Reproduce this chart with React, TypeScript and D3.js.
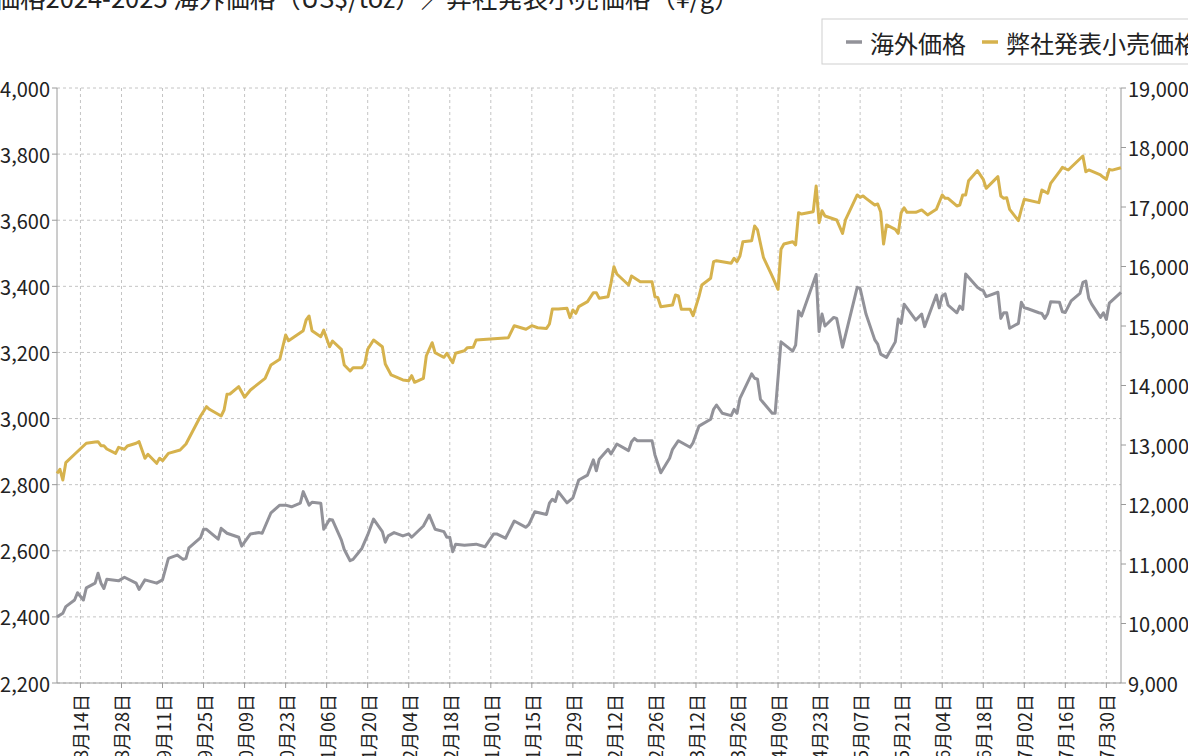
import { useEffect } from "react";
import { extent, format, scaleLinear, scaleTime, line, timeFormat } from "d3";

// 海外価格 (US$/toz)
const overseas: [string, number][] = [
    ["2024-08-06", 2400], ["2024-08-08", 2411], ["2024-08-09", 2431], ["2024-08-12", 2451], ["2024-08-13", 2473],
    ["2024-08-15", 2451], ["2024-08-16", 2488], ["2024-08-19", 2502], ["2024-08-20", 2532], ["2024-08-21", 2502],
    ["2024-08-22", 2486], ["2024-08-23", 2514], ["2024-08-27", 2509], ["2024-08-29", 2520], ["2024-09-02", 2502],
    ["2024-09-03", 2483], ["2024-09-05", 2512], ["2024-09-09", 2502], ["2024-09-11", 2512], ["2024-09-13", 2577],
    ["2024-09-16", 2587], ["2024-09-18", 2574], ["2024-09-19", 2577], ["2024-09-20", 2609], ["2024-09-24", 2640],
    ["2024-09-25", 2665], ["2024-09-26", 2665], ["2024-09-30", 2635], ["2024-10-01", 2668], ["2024-10-03", 2653],
    ["2024-10-07", 2641], ["2024-10-08", 2614], ["2024-10-11", 2651], ["2024-10-14", 2655], ["2024-10-15", 2653],
    ["2024-10-18", 2715], ["2024-10-21", 2738], ["2024-10-23", 2738], ["2024-10-25", 2733], ["2024-10-28", 2744],
    ["2024-10-29", 2779], ["2024-10-31", 2738], ["2024-11-01", 2747], ["2024-11-04", 2744], ["2024-11-05", 2665],
    ["2024-11-07", 2695], ["2024-11-08", 2693], ["2024-11-11", 2633], ["2024-11-12", 2604], ["2024-11-14", 2570],
    ["2024-11-15", 2574], ["2024-11-18", 2607], ["2024-11-20", 2648], ["2024-11-22", 2696], ["2024-11-25", 2658],
    ["2024-11-26", 2626], ["2024-11-27", 2645], ["2024-11-29", 2655], ["2024-12-02", 2645], ["2024-12-04", 2651],
    ["2024-12-05", 2641], ["2024-12-09", 2675], ["2024-12-11", 2708], ["2024-12-13", 2665], ["2024-12-16", 2658],
    ["2024-12-17", 2641], ["2024-12-18", 2641], ["2024-12-19", 2597], ["2024-12-20", 2620], ["2024-12-23", 2617],
    ["2024-12-27", 2620], ["2024-12-30", 2612], ["2025-01-02", 2651], ["2025-01-03", 2651], ["2025-01-06", 2638],
    ["2025-01-07", 2655], ["2025-01-09", 2690], ["2025-01-13", 2671], ["2025-01-14", 2680], ["2025-01-16", 2718],
    ["2025-01-20", 2710], ["2025-01-21", 2744], ["2025-01-22", 2756], ["2025-01-23", 2749], ["2025-01-24", 2779],
    ["2025-01-27", 2745], ["2025-01-29", 2760], ["2025-01-31", 2814], ["2025-02-03", 2829], ["2025-02-05", 2875],
    ["2025-02-06", 2842], ["2025-02-07", 2877], ["2025-02-10", 2907], ["2025-02-11", 2893], ["2025-02-13", 2923],
    ["2025-02-17", 2903], ["2025-02-18", 2930], ["2025-02-19", 2940], ["2025-02-20", 2933], ["2025-02-25", 2933],
    ["2025-02-26", 2890], ["2025-02-28", 2836], ["2025-03-03", 2880], ["2025-03-04", 2907], ["2025-03-06", 2933],
    ["2025-03-10", 2913], ["2025-03-11", 2927], ["2025-03-13", 2977], ["2025-03-17", 2998], ["2025-03-18", 3028],
    ["2025-03-19", 3041], ["2025-03-21", 3016], ["2025-03-24", 3009], ["2025-03-25", 3028], ["2025-03-26", 3016],
    ["2025-03-27", 3061], ["2025-03-31", 3135], ["2025-04-01", 3122], ["2025-04-02", 3119], ["2025-04-03", 3058],
    ["2025-04-07", 3016], ["2025-04-08", 3016], ["2025-04-10", 3232], ["2025-04-14", 3204], ["2025-04-15", 3222],
    ["2025-04-16", 3325], ["2025-04-17", 3310], ["2025-04-22", 3436], ["2025-04-23", 3263], ["2025-04-24", 3316],
    ["2025-04-25", 3280], ["2025-04-28", 3306], ["2025-04-29", 3303], ["2025-05-01", 3216], ["2025-05-06", 3397],
    ["2025-05-07", 3394], ["2025-05-09", 3316], ["2025-05-12", 3238], ["2025-05-13", 3225], ["2025-05-14", 3195],
    ["2025-05-16", 3185], ["2025-05-19", 3232], ["2025-05-20", 3301], ["2025-05-21", 3288], ["2025-05-22", 3346],
    ["2025-05-26", 3298], ["2025-05-28", 3316], ["2025-05-29", 3278], ["2025-06-02", 3374], ["2025-06-03", 3335],
    ["2025-06-04", 3371], ["2025-06-05", 3377], ["2025-06-06", 3343], ["2025-06-09", 3320], ["2025-06-10", 3340],
    ["2025-06-11", 3330], ["2025-06-12", 3437], ["2025-06-16", 3397], ["2025-06-17", 3391], ["2025-06-18", 3387],
    ["2025-06-19", 3369], ["2025-06-23", 3382], ["2025-06-24", 3303], ["2025-06-25", 3320], ["2025-06-26", 3320],
    ["2025-06-27", 3273], ["2025-06-30", 3288], ["2025-07-01", 3352], ["2025-07-02", 3335], ["2025-07-03", 3333],
    ["2025-07-07", 3320], ["2025-07-08", 3318], ["2025-07-09", 3303], ["2025-07-10", 3318], ["2025-07-11", 3353],
    ["2025-07-14", 3352], ["2025-07-15", 3323], ["2025-07-16", 3321], ["2025-07-18", 3356], ["2025-07-21", 3379],
    ["2025-07-22", 3412], ["2025-07-23", 3416], ["2025-07-24", 3364], ["2025-07-25", 3346], ["2025-07-28", 3306],
    ["2025-07-29", 3320], ["2025-07-30", 3300], ["2025-07-31", 3349], ["2025-08-04", 3382]
];

// 弊社発表小売価格 (¥/g)
const retail: [string, number][] = [
    ["2024-08-06", 12524], ["2024-08-07", 12592], ["2024-08-08", 12412], ["2024-08-09", 12703], ["2024-08-12", 12844],
    ["2024-08-16", 13029], ["2024-08-19", 13050], ["2024-08-20", 13056], ["2024-08-21", 12988], ["2024-08-22", 12988],
    ["2024-08-23", 12933], ["2024-08-26", 12860], ["2024-08-27", 12961], ["2024-08-29", 12928], ["2024-08-30", 12983],
    ["2024-09-02", 13029], ["2024-09-03", 13056], ["2024-09-05", 12777], ["2024-09-06", 12844], ["2024-09-09", 12692],
    ["2024-09-10", 12777], ["2024-09-11", 12736], ["2024-09-13", 12860], ["2024-09-17", 12916], ["2024-09-19", 13017],
    ["2024-09-24", 13487], ["2024-09-26", 13644], ["2024-09-27", 13600], ["2024-10-01", 13487], ["2024-10-02", 13588],
    ["2024-10-03", 13852], ["2024-10-04", 13857], ["2024-10-07", 13980], ["2024-10-09", 13802], ["2024-10-11", 13924],
    ["2024-10-16", 14121], ["2024-10-18", 14345], ["2024-10-21", 14440], ["2024-10-23", 14849], ["2024-10-24", 14753],
    ["2024-10-29", 14921], ["2024-10-30", 15101], ["2024-10-31", 15168], ["2024-11-01", 14921], ["2024-11-04", 14820],
    ["2024-11-05", 14930], ["2024-11-07", 14652], ["2024-11-08", 14748], ["2024-11-11", 14608], ["2024-11-12", 14345],
    ["2024-11-14", 14244], ["2024-11-15", 14299], ["2024-11-18", 14299], ["2024-11-19", 14361], ["2024-11-20", 14608],
    ["2024-11-22", 14765], ["2024-11-25", 14652], ["2024-11-26", 14361], ["2024-11-28", 14177], ["2024-12-02", 14093],
    ["2024-12-04", 14081], ["2024-12-05", 14165], ["2024-12-06", 14054], ["2024-12-09", 14121], ["2024-12-10", 14500],
    ["2024-12-12", 14719], ["2024-12-13", 14551], ["2024-12-16", 14474], ["2024-12-17", 14541], ["2024-12-19", 14383],
    ["2024-12-20", 14541], ["2024-12-23", 14585], ["2024-12-24", 14636], ["2024-12-26", 14642], ["2024-12-27", 14765],
    ["2025-01-07", 14804], ["2025-01-09", 15005], ["2025-01-13", 14945], ["2025-01-15", 15005], ["2025-01-17", 14971],
    ["2025-01-20", 14960], ["2025-01-21", 15034], ["2025-01-22", 15286], ["2025-01-24", 15286], ["2025-01-27", 15297],
    ["2025-01-28", 15140], ["2025-01-29", 15269], ["2025-01-30", 15213], ["2025-01-31", 15325], ["2025-02-03", 15409],
    ["2025-02-05", 15560], ["2025-02-06", 15560], ["2025-02-07", 15465], ["2025-02-10", 15493], ["2025-02-11", 15718],
    ["2025-02-12", 15997], ["2025-02-13", 15874], ["2025-02-17", 15689], ["2025-02-18", 15840], ["2025-02-21", 15745],
    ["2025-02-25", 15745], ["2025-02-26", 15493], ["2025-02-27", 15476], ["2025-02-28", 15325], ["2025-03-04", 15353],
    ["2025-03-05", 15521], ["2025-03-06", 15504], ["2025-03-07", 15281], ["2025-03-10", 15281], ["2025-03-11", 15173],
    ["2025-03-13", 15493], ["2025-03-14", 15689], ["2025-03-17", 15802], ["2025-03-18", 16081], ["2025-03-19", 16098],
    ["2025-03-24", 16054], ["2025-03-25", 16138], ["2025-03-26", 16081], ["2025-03-27", 16177], ["2025-03-28", 16417],
    ["2025-03-31", 16434], ["2025-04-01", 16681], ["2025-04-02", 16614], ["2025-04-04", 16155], ["2025-04-07", 15840],
    ["2025-04-09", 15617], ["2025-04-10", 16289], ["2025-04-11", 16378], ["2025-04-14", 16417], ["2025-04-15", 16362],
    ["2025-04-16", 16904], ["2025-04-17", 16882], ["2025-04-21", 16921], ["2025-04-22", 17353], ["2025-04-23", 16736],
    ["2025-04-24", 16938], ["2025-04-25", 16849], ["2025-04-29", 16782], ["2025-05-01", 16557], ["2025-05-02", 16782],
    ["2025-05-06", 17202], ["2025-05-07", 17163], ["2025-05-08", 17185], ["2025-05-09", 17146], ["2025-05-12", 17034],
    ["2025-05-13", 17051], ["2025-05-14", 16921], ["2025-05-15", 16378], ["2025-05-16", 16698], ["2025-05-19", 16625],
    ["2025-05-20", 16557], ["2025-05-21", 16904], ["2025-05-22", 16988], ["2025-05-23", 16910], ["2025-05-26", 16910],
    ["2025-05-28", 16950], ["2025-05-30", 16866], ["2025-06-02", 16961], ["2025-06-04", 17202], ["2025-06-05", 17146],
    ["2025-06-06", 17146], ["2025-06-09", 17017], ["2025-06-10", 17034], ["2025-06-11", 17202], ["2025-06-12", 17202],
    ["2025-06-13", 17442], ["2025-06-16", 17610], ["2025-06-18", 17465], ["2025-06-19", 17314], ["2025-06-23", 17510],
    ["2025-06-24", 17185], ["2025-06-25", 17146], ["2025-06-26", 17157], ["2025-06-27", 16961], ["2025-06-30", 16770],
    ["2025-07-01", 16961], ["2025-07-02", 17129], ["2025-07-07", 17073], ["2025-07-08", 17286], ["2025-07-09", 17258],
    ["2025-07-10", 17230], ["2025-07-11", 17398], ["2025-07-14", 17593], ["2025-07-15", 17667], ["2025-07-17", 17622],
    ["2025-07-22", 17857], ["2025-07-23", 17593], ["2025-07-24", 17622], ["2025-07-28", 17538], ["2025-07-29", 17499],
    ["2025-07-30", 17465], ["2025-07-31", 17633], ["2025-08-01", 17620], ["2025-08-04", 17660]
];

const tickDates = [
    "2024-08-14", "2024-08-28", "2024-09-11", "2024-09-25", "2024-10-09", "2024-10-23", "2024-11-06",
    "2024-11-20", "2024-12-04", "2024-12-18", "2025-01-01", "2025-01-15", "2025-01-29", "2025-02-12",
    "2025-02-26", "2025-03-12", "2025-03-26", "2025-04-09", "2025-04-23", "2025-05-07", "2025-05-21",
    "2025-06-04", "2025-06-18", "2025-07-02", "2025-07-16", "2025-07-30"
];

const leftDomain = [2200, 4000];
const rightDomain = [9000, 19000];
const seriesNames = ["海外価格", "弊社発表小売価格"];
const title = "金価格2024-2025 海外価格（US$/toz）／弊社発表小売価格（¥/g）";

const GRAY = "#929299";
const GOLD = "#d6b24d";
const FONT = "'Noto Sans CJK JP', 'Noto Sans', sans-serif";

const parse = (s: string) => new Date(s + "T00:00:00");
const fmtDate = timeFormat("%m月%d日");
const fmtNum = format(",");

export default function App() {
    useEffect(() => {
        document.body.style.margin = "0";
    }, []);

    const margin = { top: 88, right: 67, bottom: 73, left: 57 };
    const W = 1188;
    const H = 756;
    const innerW = W - margin.left - margin.right;
    const innerH = H - margin.top - margin.bottom;

    const allDates = [...overseas, ...retail].map(([d]) => parse(d));
    const x = scaleTime()
        .domain(extent(allDates) as [Date, Date])
        .range([0, innerW]);
    const yL = scaleLinear().domain(leftDomain).range([innerH, 0]);
    const yR = scaleLinear().domain(rightDomain).range([innerH, 0]);

    const lineL = line<[string, number]>()
        .x(([d]) => x(parse(d)))
        .y(([, v]) => yL(v));
    const lineR = line<[string, number]>()
        .x(([d]) => x(parse(d)))
        .y(([, v]) => yR(v));

    const ticksL = yL.ticks(9);
    const ticksR = yR.ticks(10);
    const xTicks = tickDates.map(parse);

    return (
        <svg
            width={W}
            height={H}
            style={{ display: "block", position: "absolute", left: 0, top: 0 }}
            fontFamily={FONT}
        >
            <rect width={W} height={H} fill="#fff" />
            <text x={-31} y={8} fontSize={25.5} fill="#222">{title}</text>

            <g transform="translate(822,19)">
                <rect x={0} y={0} width={420} height={45} fill="#fff" stroke="#cfcfcf" strokeWidth={1} />
                <line x1={24} x2={40} y1={23} y2={23} stroke={GRAY} strokeWidth={3.5} />
                <text x={48} y={23} dominantBaseline="central" fontSize={24} fill="#222">{seriesNames[0]}</text>
                <line x1={160} x2={176} y1={23} y2={23} stroke={GOLD} strokeWidth={3.5} />
                <text x={184} y={23} dominantBaseline="central" fontSize={24} fill="#222">{seriesNames[1]}</text>
            </g>

            <g transform={`translate(${margin.left},${margin.top})`}>
                {ticksL.map((t) => (
                    <line key={`h${t}`} x1={0} x2={innerW} y1={yL(t)} y2={yL(t)}
                        stroke="#c4c4c4" strokeDasharray="3 3" />
                ))}
                {xTicks.map((d) => (
                    <line key={`v${+d}`} x1={x(d)} x2={x(d)} y1={0} y2={innerH}
                        stroke="#c4c4c4" strokeDasharray="3 3" />
                ))}

                <line x1={0} x2={0} y1={0} y2={innerH} stroke="#9a9a9a" />
                <line x1={innerW} x2={innerW} y1={0} y2={innerH} stroke="#9a9a9a" />
                <line x1={0} x2={innerW} y1={innerH} y2={innerH} stroke="#9a9a9a" />

                {ticksL.map((t) => (
                    <g key={`l${t}`} transform={`translate(0,${yL(t)})`}>
                        <line x1={-5} x2={0} stroke="#9a9a9a" />
                        <text x={-7} dominantBaseline="central" textAnchor="end" fontSize={20} fill="#222">
                            {fmtNum(t)}
                        </text>
                    </g>
                ))}
                {ticksR.map((t) => (
                    <g key={`r${t}`} transform={`translate(${innerW},${yR(t)})`}>
                        <line x1={0} x2={5} stroke="#9a9a9a" />
                        <text x={7} dominantBaseline="central" textAnchor="start" fontSize={20} fill="#222">
                            {fmtNum(t)}
                        </text>
                    </g>
                ))}
                {xTicks.map((d) => (
                    <g key={`x${+d}`} transform={`translate(${x(d)},${innerH})`}>
                        <line y1={0} y2={5} stroke="#9a9a9a" />
                        <text transform="translate(0,11) rotate(-90)" textAnchor="end"
                            dominantBaseline="central" fontSize={18} fill="#222">
                            {fmtDate(d)}
                        </text>
                    </g>
                ))}

                <path d={lineL(overseas) ?? ""} fill="none" stroke={GRAY} strokeWidth={3}
                    strokeLinejoin="round" />
                <path d={lineR(retail) ?? ""} fill="none" stroke={GOLD} strokeWidth={3}
                    strokeLinejoin="round" />
            </g>
        </svg>
    );
}
